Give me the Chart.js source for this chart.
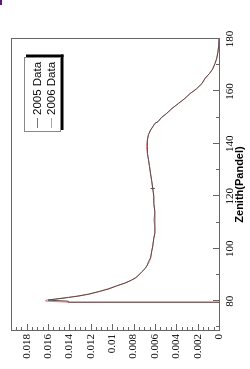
<!DOCTYPE html>
<html><head><meta charset="utf-8">
<script src="https://cdn.jsdelivr.net/npm/chart.js@4"></script>
<style>
html,body{margin:0;padding:0;background:#fff;overflow:hidden;width:250px;height:369px;}
#wrap{position:absolute;left:0;top:0;width:369px;height:250px;transform-origin:0 0;transform:translate(0,369px) rotate(-90deg);}
#mark{position:absolute;left:0;top:0;width:2px;height:5px;background:#5a1a78;}
</style></head><body>
<div id="wrap"><canvas id="c" width="369" height="250"></canvas></div>
<div id="mark"></div>
<script>
// Zenith angle (Pandel) sample points
const zenith = [79.3, 79.6, 80.0, 80.4, 80.8, 81.4, 82.0, 82.7, 83.7, 84.7, 85.8, 86.9, 88.0, 89.0, 90.0, 91.3, 92.5, 93.8, 95.1, 96.5, 98.9, 101, 104, 106, 108.5, 111, 114, 117.3, 120, 123, 126, 128.5, 131.3, 134, 136.4, 139, 141.5, 143.5, 145.3, 146.5, 147.8, 148.5, 150, 151.6, 153.5, 155.4, 157.3, 159.2, 161, 163, 165, 166.9, 168.5, 170.7, 172.5, 175, 177.5, 180];
const values2005 = [0, 0.0141, 0.0141, 0.0160, 0.0153, 0.0141, 0.0131, 0.0122, 0.0112, 0.0103, 0.0096, 0.0088, 0.0082, 0.0078, 0.0075, 0.0072, 0.0069, 0.0067, 0.0066, 0.0064, 0.0063, 0.0062, 0.0061, 0.0060, 0.0060, 0.0060, 0.0060, 0.0061, 0.0061, 0.0062, 0.0063, 0.0064, 0.0065, 0.0066, 0.0067, 0.0067, 0.0067, 0.0066, 0.0064, 0.0062, 0.0060, 0.0057, 0.0054, 0.0049, 0.0044, 0.0038, 0.0032, 0.0027, 0.0021, 0.0016, 0.0013, 0.00088, 0.0006, 0.00037, 0.00022, 0.0001, 0.00003, 0];
const values2006 = [0, 0.0140, 0.0162, 0.0162, 0.0153, 0.0142, 0.0131, 0.0121, 0.0112, 0.0104, 0.0096, 0.0088, 0.0082, 0.0077, 0.0075, 0.0072, 0.0069, 0.0067, 0.0065, 0.0064, 0.0063, 0.0062, 0.0061, 0.0060, 0.0060, 0.0061, 0.0060, 0.0061, 0.0061, 0.0062, 0.0063, 0.0064, 0.0065, 0.0066, 0.0067, 0.0068, 0.0067, 0.0066, 0.0064, 0.0062, 0.0060, 0.0057, 0.0054, 0.0049, 0.0044, 0.0038, 0.0032, 0.0027, 0.0021, 0.0016, 0.0013, 0.00088, 0.0006, 0.00037, 0.00022, 0.0001, 0.00003, 0];
// single visible error bar
const errZenith = [123, 123];
const errValues = [0.00600, 0.00640];
const seriesLabels = ['2005 Data', '2006 Data'];
const seriesColors = ['#5a4a4a', 'rgba(200,50,50,0.6)'];
const yTickStep = 0.002, yMinorStep = 0.0005;
const xTickStep = 10, xLabelStep = 20;

const pts = (xs, ys) => xs.map((x, i) => ({x: x, y: ys[i]}));

const framePlugin = {
  id: 'frame',
  afterDraw(chart) {
    const {ctx, chartArea: a, scales: {x, y}} = chart;
    ctx.save();
    ctx.strokeStyle = '#666';
    ctx.lineWidth = 1;
    ctx.strokeRect(Math.round(a.left) - 0.5, Math.round(a.top) + 0.5, Math.round(a.right) - Math.round(a.left) + 1, Math.round(a.bottom) - Math.round(a.top));
    ctx.beginPath();
    // y ticks (inward)
    for (let i = 0; i * yMinorStep <= y.max + 1e-9; i++) {
      const v = i * yMinorStep;
      const py = Math.round(y.getPixelForValue(v)) + 0.5;
      const len = (i % Math.round(yTickStep / yMinorStep) === 0) ? 6 : 3;
      ctx.moveTo(a.left, py); ctx.lineTo(a.left + len, py);
    }
    // x ticks (inward)
    for (let z = Math.ceil(x.min / xTickStep) * xTickStep; z <= x.max; z += xTickStep) {
      const px = Math.round(x.getPixelForValue(z)) + 0.5;
      const len = (z % xLabelStep === 0) ? 6 : 3;
      ctx.moveTo(px, a.bottom); ctx.lineTo(px, a.bottom - len);
    }
    ctx.stroke();
    // legend
    const L = 237, R = 312, T = 24, B = 61;
    ctx.fillStyle = '#000';
    ctx.fillRect(R, T + 2, 2.5, B - T + 0.5);
    ctx.fillRect(L + 2, B, R - L + 0.5, 2.5);
    ctx.fillStyle = '#fff';
    ctx.fillRect(L, T, R - L, B - T);
    ctx.strokeStyle = '#888';
    ctx.strokeRect(L + 0.5, T + 0.5, R - L - 1, B - T - 1);
    ctx.font = '11.5px "Liberation Sans", Arial, sans-serif';
    ctx.textBaseline = 'middle';
    ctx.textAlign = 'left';
    const rows = [37, 51];
    const sampleColors = ['#777', '#f08a8a'];
    seriesLabels.forEach((lab, i) => {
      ctx.strokeStyle = sampleColors[i];
      ctx.beginPath(); ctx.moveTo(241, rows[i] + 0.5); ctx.lineTo(251, rows[i] + 0.5); ctx.stroke();
      ctx.fillStyle = '#000';
      ctx.fillText(lab, 254, rows[i] + 0.5);
    });
    ctx.restore();
  }
};

new Chart(document.getElementById('c'), {
  type: 'line',
  data: {
    datasets: [
      {label: seriesLabels[0], data: pts(zenith, values2005), borderColor: seriesColors[0], borderWidth: 1, pointRadius: 0, tension: 0, fill: false},
      {label: seriesLabels[1], data: pts(zenith, values2006), borderColor: seriesColors[1], borderWidth: 1, pointRadius: 0, tension: 0, fill: false},
      {label: 'err', data: pts(errZenith, errValues), borderColor: seriesColors[0], borderWidth: 1, pointRadius: 0, fill: false}
    ]
  },
  options: {
    responsive: false, animation: false, events: [],
    layout: {padding: {left: 0, right: 39, top: 10, bottom: 0}},
    plugins: {legend: {display: false}, tooltip: {enabled: false}},
    scales: {
      x: {
        type: 'linear', min: 69, max: 180,
        afterFit(s) { s.height = 31; },
        grid: {display: false, drawTicks: false}, border: {display: false},
        ticks: {stepSize: xTickStep, includeBounds: false, autoSkip: false, maxRotation: 0, padding: 5,
          font: {family: '"Liberation Serif", "Times New Roman", serif', size: 11}, color: '#000',
          callback: v => (Math.round(v) % xLabelStep === 0 ? String(Math.round(v)) : '')},
        title: {display: true, text: 'Zenith(Pandel)', font: {family: '"Liberation Sans", Arial, sans-serif', weight: 'bold', size: 11}, color: '#000', padding: {top: 0, bottom: 3}}
      },
      y: {
        type: 'linear', min: 0, max: 0.0195,
        afterFit(s) { s.width = 39; },
        grid: {display: false, drawTicks: false}, border: {display: false},
        ticks: {stepSize: yTickStep, includeBounds: false, autoSkip: false, padding: 4,
          font: {family: '"Liberation Serif", "Times New Roman", serif', size: 11}, color: '#000',
          callback: v => String(parseFloat(Number(v).toFixed(4)))}
      }
    }
  },
  plugins: [framePlugin]
});
</script>
</body></html>
